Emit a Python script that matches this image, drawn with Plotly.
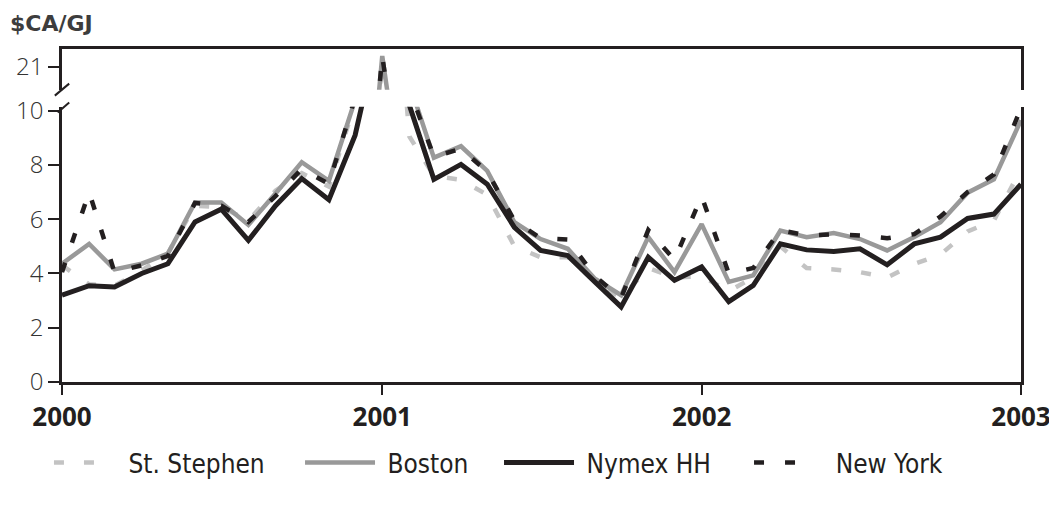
import pandas as pd
import plotly.graph_objects as go

# monthly, Jan 2000 .. Jan 2003
months = pd.date_range("2000-01-01", "2003-01-01", freq="MS")

st_stephen = [4.3, 3.6, 3.55, 4.1, 4.75, 6.5, 6.45, 5.95, 7.05, 7.7, 7.2, 10.3,
              21.2, 9.05, 7.6, 7.45, 6.9, 5.0, 4.6, 4.6, 3.7, 3.1, 4.2, 3.85,
              3.9, 3.35, 3.85, 5.0, 4.2, 4.15, 4.05, 3.85, 4.35, 4.7, 5.55, 5.95,
              7.85]
boston = [4.36, 5.09, 4.15, 4.36, 4.73, 6.62, 6.62, 5.79, 6.95, 8.1, 7.41, 10.4,
          21.4, 11.0, 8.27, 8.69, 7.78, 5.89, 5.27, 4.91, 3.81, 3.2, 5.34, 4.05,
          5.82, 3.69, 3.93, 5.58, 5.34, 5.49, 5.27, 4.85, 5.34, 5.89, 6.98, 7.47,
          9.65]
nymex_hh = [3.2, 3.55, 3.5, 4.0, 4.36, 5.9, 6.37, 5.22, 6.5, 7.5, 6.72, 9.1,
            13.5, 10.2, 7.47, 8.02, 7.29, 5.7, 4.85, 4.66, 3.69, 2.77, 4.6, 3.75,
            4.24, 2.96, 3.56, 5.09, 4.87, 4.81, 4.91, 4.32, 5.09, 5.34, 6.03, 6.19,
            7.29]
new_york = [4.05, 7.0, 4.05, 4.3, 4.65, 6.6, 6.5, 5.9, 6.85, 7.85, 7.3, 10.5,
            21.4, 10.8, 8.3, 8.6, 7.75, 5.95, 5.3, 5.25, 3.9, 3.1, 5.6, 4.5,
            6.85, 4.0, 4.2, 5.6, 5.4, 5.45, 5.4, 5.3, 5.45, 6.1, 7.0, 7.65,
            10.1]

year_ticks = ["2000-01-01", "2001-01-01", "2002-01-01", "2003-01-01"]
year_labels = ["2000", "2001", "2002", "2003"]

INK = "#231f20"
NB = "\u00a0"

# name, values, line style, legend id, legend x, symbol width, leading pad
series = [
    ("St. Stephen", st_stephen, dict(color="#c3c3c3", width=4.5, dash="10px,20px"),
     "legend", -0.0136, 50, NB * 2 + "\u2009"),
    ("Boston", boston, dict(color="#999999", width=4.5), "legend2", 0.2482, 70, NB),
    ("Nymex HH", nymex_hh, dict(color=INK, width=5), "legend3", 0.4557, 70, NB),
    ("New York", new_york, dict(color=INK, width=4.5, dash="10px,21px"),
     "legend4", 0.7164, 52, NB * 3 + "\u200a"),
]

legend_font = dict(family="DejaVu Sans Condensed, Liberation Sans Narrow, Liberation Sans, sans-serif",
                   size=26, color=INK)

fig = go.Figure()
legends = {}
for name, vals, line, leg, lx, iw, pad in series:
    # lower panel (0-10) and upper panel (above the axis break)
    fig.add_trace(go.Scatter(x=months, y=vals, mode="lines", name=pad + name,
                             line=line, xaxis="x", yaxis="y", legend=leg))
    fig.add_trace(go.Scatter(x=months, y=vals, mode="lines", showlegend=False,
                             line=line, xaxis="x2", yaxis="y2"))
    legends[leg] = dict(x=lx, xanchor="left", y=-0.242, yanchor="middle", itemwidth=iw,
                        font=legend_font, bgcolor="rgba(0,0,0,0)")

tickfont = dict(family="Open Sans", size=24, color="#333333", weight=300)

fig.update_layout(
    width=1049, height=490,
    margin=dict(l=54, r=36, t=41, b=114),
    plot_bgcolor="white", paper_bgcolor="white",
    xaxis=dict(range=["2000-01-01", "2003-01-01"], domain=[0, 1], anchor="y",
               tickvals=year_ticks, ticktext=year_labels, ticklabeloverflow="allow",
               ticks="outside", ticklen=10, tickwidth=1.5, tickcolor=INK,
               showline=True, linecolor=INK, linewidth=2.5, showgrid=False, zeroline=False,
               automargin=False,
               tickfont=dict(family="Open Sans", size=26, color=INK, weight="bold")),
    xaxis2=dict(matches="x", anchor="y2", side="top", showline=True, linecolor=INK,
                linewidth=2.5, showticklabels=False, ticks="", showgrid=False, zeroline=False),
    yaxis=dict(domain=[0, 0.8269], range=[0, 10.15], tickvals=[0, 2, 4, 6, 8, 10],
               ticks="outside", ticklen=11, tickwidth=1.5, tickcolor=INK,
               showline=True, mirror=True, linecolor=INK, linewidth=2.5,
               showgrid=False, zeroline=False, automargin=False, tickfont=tickfont),
    yaxis2=dict(domain=[0.8776, 1], range=[20.16, 21.66], tickvals=[21],
                ticks="outside", ticklen=11, tickwidth=1.5, tickcolor=INK,
                showline=True, mirror=True, linecolor=INK, linewidth=2.5,
                showgrid=False, zeroline=False, automargin=False, tickfont=tickfont),
    annotations=[dict(text="<b>$CA/GJ</b>", xref="paper", yref="paper", x=-0.0552, y=1.118,
                      xanchor="left", yanchor="top", showarrow=False, borderpad=0,
                      font=dict(family="DejaVu Sans", size=22, color="#3d3d3d"))],
    shapes=[
        # axis break marks on the left axis
        dict(type="line", xref="paper", yref="paper", x0=-0.0075, y0=0.860, x1=0.0075, y1=0.896,
             line=dict(color=INK, width=2)),
        dict(type="line", xref="paper", yref="paper", x0=-0.0045, y0=0.809, x1=0.0075, y1=0.839,
             line=dict(color=INK, width=2)),
    ],
    **legends,
)

fig.write_html("out.html")
